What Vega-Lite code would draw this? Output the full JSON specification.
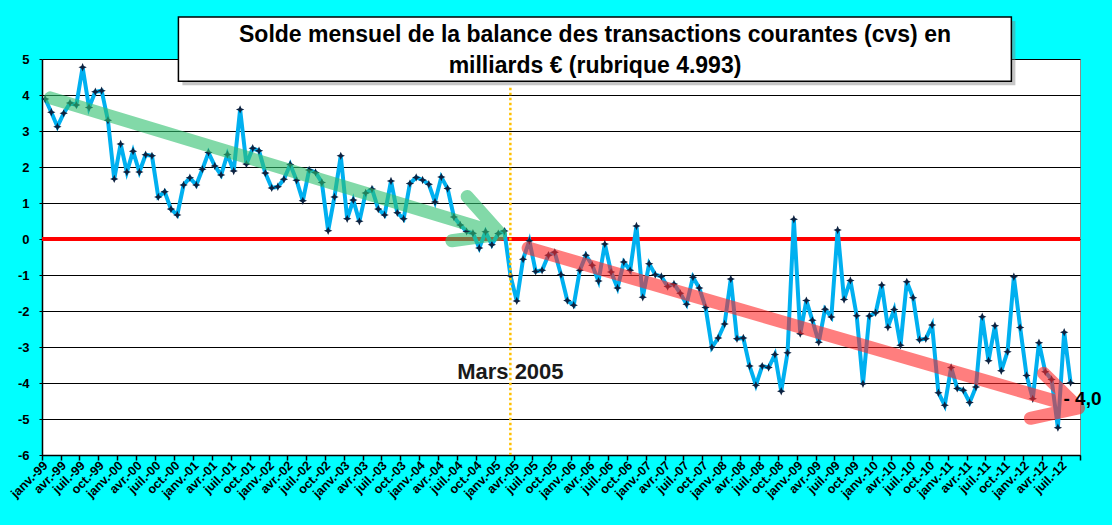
{
  "$schema": "https://vega.github.io/schema/vega-lite/v6.json",
  "width": 1038,
  "height": 396,
  "autosize": "none",
  "padding": {"left": 42, "top": 59, "right": 32, "bottom": 70},
  "background": "#00FFFF",
  "title": {
    "text": ["Solde mensuel de la balance des transactions courantes (cvs) en", "milliards € (rubrique 4.993)"],
    "font": "Liberation Sans",
    "fontSize": 23,
    "fontWeight": "bold",
    "color": "black",
    "anchor": "middle",
    "frame": "group",
    "dx": 34,
    "offset": -62,
    "lineHeight": 31
  },
  "datasets": {
    "solde": [
      {"d": "1999-01", "v": 3.89}, {"d": "1999-02", "v": 3.52}, {"d": "1999-03", "v": 3.12}, {"d": "1999-04", "v": 3.49},
      {"d": "1999-05", "v": 3.78}, {"d": "1999-06", "v": 3.72}, {"d": "1999-07", "v": 4.77}, {"d": "1999-08", "v": 3.65},
      {"d": "1999-09", "v": 4.09}, {"d": "1999-10", "v": 4.12}, {"d": "1999-11", "v": 3.30}, {"d": "1999-12", "v": 1.67},
      {"d": "2000-01", "v": 2.64}, {"d": "2000-02", "v": 1.86}, {"d": "2000-03", "v": 2.44}, {"d": "2000-04", "v": 1.86},
      {"d": "2000-05", "v": 2.34}, {"d": "2000-06", "v": 2.31}, {"d": "2000-07", "v": 1.17}, {"d": "2000-08", "v": 1.31},
      {"d": "2000-09", "v": 0.83}, {"d": "2000-10", "v": 0.67}, {"d": "2000-11", "v": 1.50}, {"d": "2000-12", "v": 1.70},
      {"d": "2001-01", "v": 1.50}, {"d": "2001-02", "v": 1.94}, {"d": "2001-03", "v": 2.40}, {"d": "2001-04", "v": 2.03},
      {"d": "2001-05", "v": 1.78}, {"d": "2001-06", "v": 2.35}, {"d": "2001-07", "v": 1.89}, {"d": "2001-08", "v": 3.60},
      {"d": "2001-09", "v": 2.08}, {"d": "2001-10", "v": 2.52}, {"d": "2001-11", "v": 2.45}, {"d": "2001-12", "v": 1.83},
      {"d": "2002-01", "v": 1.42}, {"d": "2002-02", "v": 1.45}, {"d": "2002-03", "v": 1.66}, {"d": "2002-04", "v": 2.07},
      {"d": "2002-05", "v": 1.63}, {"d": "2002-06", "v": 1.06}, {"d": "2002-07", "v": 1.92}, {"d": "2002-08", "v": 1.85},
      {"d": "2002-09", "v": 1.57}, {"d": "2002-10", "v": 0.23}, {"d": "2002-11", "v": 1.17}, {"d": "2002-12", "v": 2.31},
      {"d": "2003-01", "v": 0.56}, {"d": "2003-02", "v": 1.08}, {"d": "2003-03", "v": 0.49}, {"d": "2003-04", "v": 1.28},
      {"d": "2003-05", "v": 1.39}, {"d": "2003-06", "v": 0.83}, {"d": "2003-07", "v": 0.67}, {"d": "2003-08", "v": 1.61},
      {"d": "2003-09", "v": 0.73}, {"d": "2003-10", "v": 0.56}, {"d": "2003-11", "v": 1.54}, {"d": "2003-12", "v": 1.71},
      {"d": "2004-01", "v": 1.64}, {"d": "2004-02", "v": 1.52}, {"d": "2004-03", "v": 1.03}, {"d": "2004-04", "v": 1.72},
      {"d": "2004-05", "v": 1.40}, {"d": "2004-06", "v": 0.61}, {"d": "2004-07", "v": 0.39}, {"d": "2004-08", "v": 0.21},
      {"d": "2004-09", "v": 0.16}, {"d": "2004-10", "v": -0.25}, {"d": "2004-11", "v": 0.20}, {"d": "2004-12", "v": -0.16},
      {"d": "2005-01", "v": 0.15}, {"d": "2005-02", "v": 0.22}, {"d": "2005-03", "v": -1.02}, {"d": "2005-04", "v": -1.72},
      {"d": "2005-05", "v": -0.56}, {"d": "2005-06", "v": -0.05}, {"d": "2005-07", "v": -0.90}, {"d": "2005-08", "v": -0.87},
      {"d": "2005-09", "v": -0.45}, {"d": "2005-10", "v": -0.37}, {"d": "2005-11", "v": -0.99}, {"d": "2005-12", "v": -1.71},
      {"d": "2006-01", "v": -1.84}, {"d": "2006-02", "v": -0.87}, {"d": "2006-03", "v": -0.45}, {"d": "2006-04", "v": -0.73},
      {"d": "2006-05", "v": -1.17}, {"d": "2006-06", "v": -0.14}, {"d": "2006-07", "v": -0.92}, {"d": "2006-08", "v": -1.36},
      {"d": "2006-09", "v": -0.64}, {"d": "2006-10", "v": -0.87}, {"d": "2006-11", "v": 0.36}, {"d": "2006-12", "v": -1.62},
      {"d": "2007-01", "v": -0.69}, {"d": "2007-02", "v": -0.99}, {"d": "2007-03", "v": -1.04}, {"d": "2007-04", "v": -1.32},
      {"d": "2007-05", "v": -1.25}, {"d": "2007-06", "v": -1.51}, {"d": "2007-07", "v": -1.81}, {"d": "2007-08", "v": -1.06},
      {"d": "2007-09", "v": -1.36}, {"d": "2007-10", "v": -1.90}, {"d": "2007-11", "v": -3.01}, {"d": "2007-12", "v": -2.75},
      {"d": "2008-01", "v": -2.36}, {"d": "2008-02", "v": -1.11}, {"d": "2008-03", "v": -2.77}, {"d": "2008-04", "v": -2.75},
      {"d": "2008-05", "v": -3.53}, {"d": "2008-06", "v": -4.06}, {"d": "2008-07", "v": -3.53}, {"d": "2008-08", "v": -3.57},
      {"d": "2008-09", "v": -3.21}, {"d": "2008-10", "v": -4.23}, {"d": "2008-11", "v": -3.16}, {"d": "2008-12", "v": 0.55},
      {"d": "2009-01", "v": -2.63}, {"d": "2009-02", "v": -1.71}, {"d": "2009-03", "v": -2.26}, {"d": "2009-04", "v": -2.87},
      {"d": "2009-05", "v": -1.95}, {"d": "2009-06", "v": -2.17}, {"d": "2009-07", "v": 0.25}, {"d": "2009-08", "v": -1.68},
      {"d": "2009-09", "v": -1.15}, {"d": "2009-10", "v": -2.13}, {"d": "2009-11", "v": -4.02}, {"d": "2009-12", "v": -2.14},
      {"d": "2010-01", "v": -2.05}, {"d": "2010-02", "v": -1.28}, {"d": "2010-03", "v": -2.45}, {"d": "2010-04", "v": -1.96},
      {"d": "2010-05", "v": -2.95}, {"d": "2010-06", "v": -1.19}, {"d": "2010-07", "v": -1.63}, {"d": "2010-08", "v": -2.80},
      {"d": "2010-09", "v": -2.77}, {"d": "2010-10", "v": -2.39}, {"d": "2010-11", "v": -4.27}, {"d": "2010-12", "v": -4.62},
      {"d": "2011-01", "v": -3.57}, {"d": "2011-02", "v": -4.15}, {"d": "2011-03", "v": -4.20}, {"d": "2011-04", "v": -4.54},
      {"d": "2011-05", "v": -4.11}, {"d": "2011-06", "v": -2.16}, {"d": "2011-07", "v": -3.38}, {"d": "2011-08", "v": -2.41},
      {"d": "2011-09", "v": -3.66}, {"d": "2011-10", "v": -3.13}, {"d": "2011-11", "v": -1.05}, {"d": "2011-12", "v": -2.46},
      {"d": "2012-01", "v": -3.79}, {"d": "2012-02", "v": -4.44}, {"d": "2012-03", "v": -2.88}, {"d": "2012-04", "v": -3.69},
      {"d": "2012-05", "v": -3.90}, {"d": "2012-06", "v": -5.24}, {"d": "2012-07", "v": -2.59}, {"d": "2012-08", "v": -3.99}
    ],
    "fleches": [
      {"g": "vert", "o": 1, "d": "1999-02-10", "v": 3.92},
      {"g": "vert", "o": 2, "d": "2005-01-28", "v": 0.14},
      {"g": "vert", "o": 3, "d": "2004-08-19", "v": 1.18},
      {"g": "vert", "o": 4, "d": "2005-01-28", "v": 0.14},
      {"g": "vert", "o": 5, "d": "2004-06-06", "v": -0.05},
      {"g": "rouge", "o": 1, "d": "2005-06-10", "v": -0.25},
      {"g": "rouge", "o": 2, "d": "2012-09-24", "v": -4.69},
      {"g": "rouge", "o": 3, "d": "2012-04-08", "v": -3.73},
      {"g": "rouge", "o": 4, "d": "2012-09-24", "v": -4.69},
      {"g": "rouge", "o": 5, "d": "2012-02-04", "v": -4.98}
    ],
    "repere": [
      {"d": "2005-03-16", "v": 4.2, "v2": -6}
    ],
    "boite": [
      {"d": "2000-10-22", "d2": "2011-11-04", "v": 6.17, "v2": 4.38}
    ],
    "notes": [
      {"d": "2005-03-16", "v": -3.69, "t": "Mars 2005", "k": "mars"},
      {"d": "2012-07-13", "v": -4.44, "t": "- 4,0", "k": "fin"}
    ]
  },
  "layer": [
    {
      "data": {"values": [{}]},
      "mark": {"type": "rule", "color": "#FF0000", "strokeWidth": 4},
      "encoding": {
        "y": {
          "datum": 0,
          "type": "quantitative",
          "title": null,
          "scale": {"domain": [-6, 5], "nice": false, "zero": false},
          "axis": {
            "tickCount": 11,
            "tickMinStep": 1,
            "labelExpr": "'' + datum.value",
            "labelOverlap": false,
            "grid": true,
            "gridColor": "black",
            "gridWidth": 1,
            "gridOpacity": 1,
            "labelFont": "Liberation Sans",
            "labelFontWeight": "bold",
            "labelFontSize": 13,
            "labelColor": "black",
            "labelPadding": 10,
            "domainColor": "black",
            "domainWidth": 1.5,
            "tickColor": "black",
            "tickSize": 3
          }
        }
      }
    },
    {
      "data": {"name": "solde"},
      "encoding": {
        "x": {
          "field": "d",
          "type": "temporal",
          "timeUnit": "utcyearmonth",
          "bandPosition": 0.5,
          "title": null,
          "scale": {"type": "utc", "domain": [{"year": 1999, "month": 1, "date": 1, "utc": true}, {"year": 2012, "month": 10, "date": 1, "utc": true}]},
          "axis": {
            "grid": false,
            "tickCount": {"interval": "month", "step": 3},
            "labelExpr": "utcyear(datum.value) == 2012 && utcmonth(datum.value) == 9 ? '' : ['janv.','févr.','mars','avr.','mai','juin','juil.','août','sept.','oct.','nov.','déc.'][utcmonth(datum.value)] + '-' + utcFormat(datum.value, '%y')",
            "labelAngle": -45,
            "labelAlign": "right",
            "labelBaseline": "middle",
            "labelOffset": 3,
            "labelOverlap": false,
            "labelFlush": false,
            "labelBound": false,
            "labelPadding": 3,
            "labelFont": "Liberation Sans",
            "labelFontWeight": "bold",
            "labelFontSize": 12.5,
            "labelColor": "black",
            "domainColor": "black",
            "domainWidth": 1.5,
            "tickColor": "black",
            "tickSize": 5,
            "tickWidth": 1.5
          }
        },
        "y": {
          "field": "v",
          "type": "quantitative",
          "title": null,
          "scale": {"domain": [-6, 5], "nice": false, "zero": false},
          "axis": {
            "tickCount": 11,
            "tickMinStep": 1,
            "labelExpr": "'' + datum.value",
            "labelOverlap": false,
            "grid": true,
            "gridColor": "black",
            "gridWidth": 1,
            "gridOpacity": 1,
            "labelFont": "Liberation Sans",
            "labelFontWeight": "bold",
            "labelFontSize": 13,
            "labelColor": "black",
            "labelPadding": 10,
            "domainColor": "black",
            "domainWidth": 1.5,
            "tickColor": "black",
            "tickSize": 3
          }
        }
      },
      "layer": [
        {"mark": {"type": "line", "color": "#00B0F0", "strokeWidth": 4}},
        {"mark": {"type": "point", "filled": true, "opacity": 1, "color": "#0D2240", "size": 70, "shape": "M0,-1L0.3,-0.3L1,0L0.3,0.3L0,1L-0.3,0.3L-1,0L-0.3,-0.3Z"}}
      ]
    },
    {
      "data": {"name": "repere"},
      "mark": {"type": "rule", "color": "#FFC000", "strokeWidth": 2.5, "strokeDash": [2.5, 2.5]},
      "encoding": {
        "x": {"field": "d", "type": "temporal"},
        "y": {"field": "v", "type": "quantitative"},
        "y2": {"field": "v2"}
      }
    },
    {
      "data": {"name": "fleches"},
      "transform": [{"filter": "datum.g == 'vert'"}],
      "mark": {"type": "line", "color": "#2EBF6E", "opacity": 0.6, "strokeWidth": 13, "strokeCap": "round", "strokeJoin": "round"},
      "encoding": {
        "x": {"field": "d", "type": "temporal"},
        "y": {"field": "v", "type": "quantitative"},
        "order": {"field": "o", "type": "quantitative"}
      }
    },
    {
      "data": {"name": "fleches"},
      "transform": [{"filter": "datum.g == 'rouge'"}],
      "mark": {"type": "line", "color": "#FF2828", "opacity": 0.6, "strokeWidth": 13, "strokeCap": "round", "strokeJoin": "round"},
      "encoding": {
        "x": {"field": "d", "type": "temporal"},
        "y": {"field": "v", "type": "quantitative"},
        "order": {"field": "o", "type": "quantitative"}
      }
    },
    {
      "data": {"name": "notes"},
      "transform": [{"filter": "datum.k == 'mars'"}],
      "mark": {"type": "text", "font": "Liberation Sans", "fontSize": 22, "fontWeight": "bold", "color": "#1A1A1A", "align": "center", "baseline": "middle"},
      "encoding": {
        "x": {"field": "d", "type": "temporal"},
        "y": {"field": "v", "type": "quantitative"},
        "text": {"field": "t"}
      }
    },
    {
      "data": {"name": "notes"},
      "transform": [{"filter": "datum.k == 'fin'"}],
      "mark": {"type": "text", "font": "Liberation Sans", "fontSize": 19, "fontWeight": "bold", "color": "black", "align": "left", "baseline": "middle"},
      "encoding": {
        "x": {"field": "d", "type": "temporal"},
        "y": {"field": "v", "type": "quantitative"},
        "text": {"field": "t"}
      }
    },
    {
      "data": {"name": "boite"},
      "mark": {"type": "rect", "color": "#808080", "opacity": 0.45, "xOffset": 4, "x2Offset": 4, "yOffset": 4, "y2Offset": 4},
      "encoding": {
        "x": {"field": "d", "type": "temporal"},
        "x2": {"field": "d2"},
        "y": {"field": "v", "type": "quantitative"},
        "y2": {"field": "v2"}
      }
    },
    {
      "data": {"name": "boite"},
      "mark": {"type": "rect", "fill": "white", "stroke": "black", "strokeWidth": 1.5, "opacity": 1},
      "encoding": {
        "x": {"field": "d", "type": "temporal"},
        "x2": {"field": "d2"},
        "y": {"field": "v", "type": "quantitative"},
        "y2": {"field": "v2"}
      }
    }
  ],
  "config": {
    "view": {"fill": "white", "stroke": "#8C8C8C", "strokeWidth": 1},
    "axisY": {"tickCount": 11}
  }
}
